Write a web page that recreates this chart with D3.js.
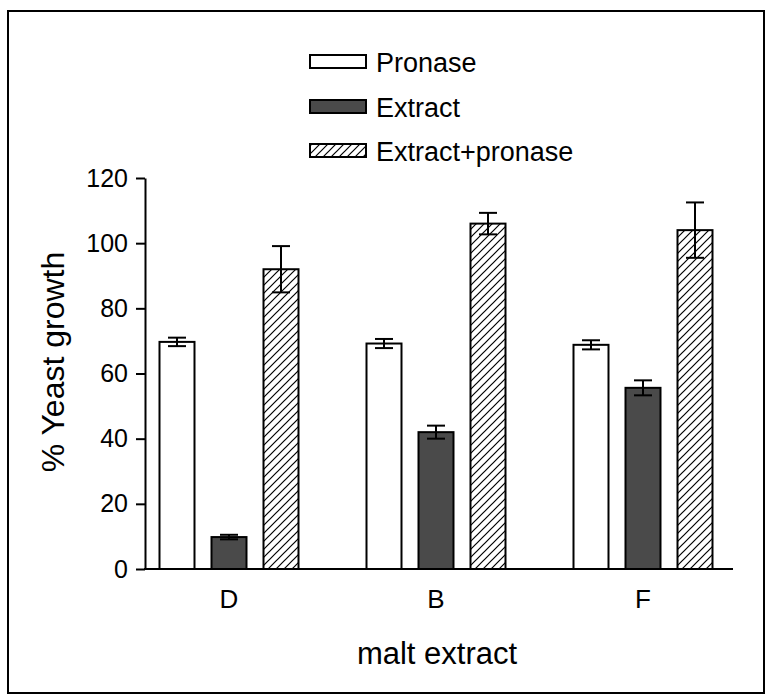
<!DOCTYPE html>
<html>
<head>
<meta charset="utf-8">
<script src="https://cdn.jsdelivr.net/npm/d3@7"></script>
<style>
  html, body { margin: 0; padding: 0; background: #fff; }
  svg { display: block; }
  text { font-family: "Liberation Sans", Arial, sans-serif; fill: #000; }
</style>
</head>
<body>
<svg id="chart" width="770" height="700"></svg>
<script>
// ---- data ----
const categories = ["D", "B", "F"];
const seriesNames = ["Pronase", "Extract", "Extract+pronase"];
const pronaseValues = [69.7, 69.2, 68.8];
const pronaseErrors = [1.3, 1.4, 1.4];
const extractValues = [9.8, 42.0, 55.6];
const extractErrors = [0.7, 2.0, 2.3];
const extPronValues = [92.0, 106.0, 104.0];
const extPronErrors = [7.1, 3.3, 8.5];
const yTicks = [0, 20, 40, 60, 80, 100, 120];
const xTitle = "malt extract";
const yTitle = "% Yeast growth";

const seriesValues = [pronaseValues, extractValues, extPronValues];
const seriesErrors = [pronaseErrors, extractErrors, extPronErrors];

const svg = d3.select("#chart");

// hatch pattern
const defs = svg.append("defs");
const pat = defs.append("pattern")
  .attr("id", "hatch").attr("patternUnits", "userSpaceOnUse")
  .attr("width", 8).attr("height", 8);
pat.append("rect").attr("width", 8).attr("height", 8).attr("fill", "#fff");
pat.append("path").attr("d", "M-2,2 L2,-2 M0,8 L8,0 M6,10 L10,6")
  .attr("stroke", "#000").attr("stroke-width", 1.2);

const fills = ["#ffffff", "#4a4a4a", "url(#hatch)"];

// frame
svg.append("rect").attr("x", 8).attr("y", 11).attr("width", 756).attr("height", 682)
  .attr("fill", "none").attr("stroke", "#000").attr("stroke-width", 2);

// scales
const y = d3.scaleLinear().domain([0, 120]).range([569, 178]);
const x0 = d3.scaleBand().domain(categories).range([125.5, 746.5]);
const x1 = d3.scaleBand().domain(seriesNames).range([-78, 78])
  .paddingInner(0.327).paddingOuter(0.1635);

const axisLeftX = 145, axisRightX = 733;

// y axis
const yAxis = svg.append("g").attr("transform", `translate(${axisLeftX},0)`)
  .call(d3.axisLeft(y).tickValues(yTicks).tickSize(9).tickPadding(8).tickSizeOuter(0));
yAxis.select(".domain").attr("stroke", "#000").attr("stroke-width", 2);
yAxis.selectAll(".tick line").attr("stroke", "#000").attr("stroke-width", 2);
yAxis.selectAll(".tick text").attr("font-size", 25)
  .attr("font-family", "Liberation Sans, Arial, sans-serif").attr("fill", "#000");

// bars
const groups = svg.append("g").selectAll("g").data(categories).join("g")
  .attr("transform", d => `translate(${x0(d) + x0.bandwidth() / 2},0)`);

seriesNames.forEach((s, si) => {
  groups.append("rect")
    .attr("x", x1(s))
    .attr("width", x1.bandwidth())
    .attr("y", (d, i) => y(seriesValues[si][i]))
    .attr("height", (d, i) => y(0) - y(seriesValues[si][i]))
    .attr("fill", fills[si])
    .attr("stroke", "#000").attr("stroke-width", 2);
});

// error bars
seriesNames.forEach((s, si) => {
  const cx = x1(s) + x1.bandwidth() / 2;
  const eb = groups.append("g").attr("stroke", "#000").attr("stroke-width", 2).attr("fill", "none");
  eb.append("line").attr("x1", cx).attr("x2", cx)
    .attr("y1", (d, i) => y(seriesValues[si][i] - seriesErrors[si][i]))
    .attr("y2", (d, i) => y(seriesValues[si][i] + seriesErrors[si][i]));
  eb.append("line").attr("x1", cx - 9).attr("x2", cx + 9)
    .attr("y1", (d, i) => y(seriesValues[si][i] + seriesErrors[si][i]))
    .attr("y2", (d, i) => y(seriesValues[si][i] + seriesErrors[si][i]));
  eb.append("line").attr("x1", cx - 9).attr("x2", cx + 9)
    .attr("y1", (d, i) => y(seriesValues[si][i] - seriesErrors[si][i]))
    .attr("y2", (d, i) => y(seriesValues[si][i] - seriesErrors[si][i]));
});

// x axis line
svg.append("line").attr("x1", axisLeftX - 1).attr("x2", axisRightX)
  .attr("y1", y(0)).attr("y2", y(0)).attr("stroke", "#000").attr("stroke-width", 2);

// x labels
svg.append("g").selectAll("text").data(categories).join("text")
  .attr("x", d => x0(d) + x0.bandwidth() / 2)
  .attr("y", 608)
  .attr("text-anchor", "middle").attr("font-size", 26)
  .text(d => d);

// titles
svg.append("text").attr("x", 437).attr("y", 664).attr("text-anchor", "middle")
  .attr("font-size", 31).text(xTitle);
svg.append("text").attr("transform", "translate(64,362) rotate(-90)")
  .attr("text-anchor", "middle").attr("font-size", 32).text(yTitle);

// legend
const legendTops = [55, 100, 144];
const leg = svg.append("g").selectAll("g").data(seriesNames).join("g");
leg.append("rect").attr("x", 310).attr("y", (d, i) => legendTops[i])
  .attr("width", 56).attr("height", 13)
  .attr("fill", (d, i) => fills[i]).attr("stroke", "#000").attr("stroke-width", 2);
leg.append("text").attr("x", 376).attr("y", (d, i) => legendTops[i] + 17)
  .attr("font-size", 27).text(d => d);
</script>
</body>
</html>
